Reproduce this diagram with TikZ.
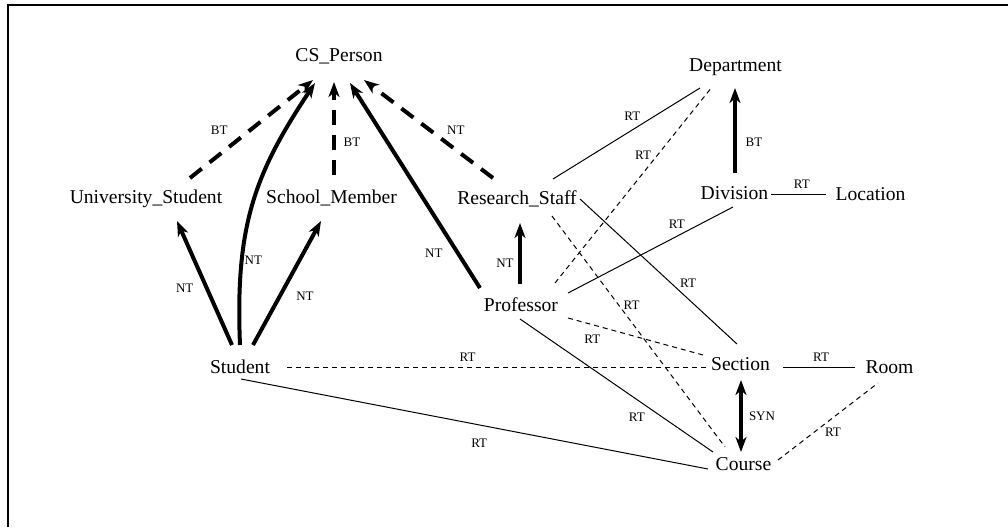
\documentclass[tikz,border=0pt]{standalone}
\usepackage{fontspec}
\setmainfont{Liberation Serif}
\usetikzlibrary{arrows.meta}

\begin{document}
\begin{tikzpicture}[x=0.5pt, y=-0.5pt, >={Stealth[length=7.5pt,width=5.5pt,inset=2.2pt]},
    term/.style={inner sep=0pt, anchor=base, font=\fontsize{9.8}{11}\selectfont},
    lbl/.style={inner sep=0pt, font=\fontsize{6.5}{7}\selectfont},
    hier/.style={->, line width=2pt},
    hierdash/.style={->, line width=2pt, dash pattern=on 7.5pt off 5pt},
    rel/.style={line width=0.5pt},
    reldash/.style={line width=0.5pt, dash pattern=on 2.5pt off 2pt}]
    \useasboundingbox (0,0) rectangle (1008,527);

    % Frame
    \draw[line width=0.6pt] (8,527) -- (8,5) -- (1008,5);

    % Terms
    \node[term] (cs) at (339,61.5) {CS\_Person};
    \node[term] (dept) at (735.5,71) {Department};
    \node[term] (ustu) at (146,203) {University\_Student};
    \node[term] (smem) at (331.5,203) {School\_Member};
    \node[term] (rstaff) at (517,204) {Research\_Staff};
    \node[term] (div) at (734.5,199.5) {Division};
    \node[term] (loc) at (870.5,200) {Location};
    \node[term] (prof) at (521,311.5) {Professor};
    \node[term] (stu) at (240,373) {Student};
    \node[term] (sec) at (740.5,370.5) {Section};
    \node[term] (room) at (889.5,373.5) {Room};
    \node[term] (course) at (743.5,470.5) {Course};

    % Hierarchy (BT / NT)
    \draw[hierdash] ([shift={(44,-25)}]ustu.base) -- ([shift={(-26,18.5)}]cs.base)
        node[lbl, pos=.49, shift={(-31,0)}] {BT};
    \draw[hierdash] ([shift={(2.5,-28)}]smem.base) -- ([shift={(-5,20.5)}]cs.base)
        node[lbl, pos=.355, shift={(18,0)}] {BT};
    \draw[hierdash] ([shift={(-24,-26)}]rstaff.base) -- ([shift={(25,18.5)}]cs.base)
        node[lbl, pos=.49, shift={(26,0)}] {NT};
    \draw[hier] ([shift={(0,-28)}]stu.base) .. controls +(-5,-120) and +(-60,90) .. ([shift={(-24,21.5)}]cs.base)
        node[lbl, pos=.29, shift={(11,5)}] {NT};
    \draw[hier] ([shift={(-41,-23.5)}]prof.base) -- ([shift={(11,21.5)}]cs.base)
        node[lbl, pos=.17, shift={(-24,0)}] {NT};
    \draw[hier] ([shift={(-8,-28)}]stu.base) -- ([shift={(31,18)}]ustu.base)
        node[lbl, pos=.46, shift={(-22,0)}] {NT};
    \draw[hier] ([shift={(13,-28)}]stu.base) -- ([shift={(-10.5,18)}]smem.base)
        node[lbl, pos=.39, shift={(25.5,0)}] {NT};
    \draw[hier] ([shift={(-1,-27.5)}]prof.base) -- ([shift={(3,19)}]rstaff.base)
        node[lbl, pos=.34, shift={(-15,0)}] {NT};
    \draw[hier] ([shift={(0.5,-26.5)}]div.base) -- ([shift={(-0.5,17)}]dept.base)
        node[lbl, pos=.36, shift={(19,0)}] {BT};
    \draw[hier, <->] ([shift={(0.5,9.5)}]sec.base) -- ([shift={(-2.5,-18.5)}]course.base)
        node[lbl, pos=.51, shift={(21,0)}] {SYN};

    % Related terms (RT)
    \draw[rel] ([shift={(36.5,-5.5)}]div.base) -- ([shift={(-44.5,-6)}]loc.base)
        node[lbl, pos=.56, shift={(0,-10)}] {RT};
    \draw[rel] ([shift={(36,-25)}]rstaff.base) -- ([shift={(-35.5,17)}]dept.base)
        node[lbl, pos=.54, shift={(0,-14)}] {RT};
    \draw[reldash] ([shift={(34,-28.5)}]prof.base) -- ([shift={(-23.5,16)}]dept.base)
        node[lbl, pos=.65, shift={(-14,0)}] {RT};
    \draw[rel] ([shift={(47,-18.5)}]prof.base) -- ([shift={(-1.5,7.5)}]div.base)
        node[lbl, pos=.66, shift={(0,-12)}] {RT};
    \draw[rel] ([shift={(63,-5)}]rstaff.base) -- ([shift={(-3.5,-26.5)}]sec.base)
        node[lbl, pos=.58, shift={(17,0)}] {RT};
    \draw[reldash] ([shift={(35,12)}]rstaff.base) -- ([shift={(-18.5,-23.5)}]course.base)
        node[lbl, pos=.385, shift={(13,0)}] {RT};
    \draw[reldash] ([shift={(47,6.5)}]prof.base) -- ([shift={(-37.5,-15.5)}]sec.base)
        node[lbl, pos=.18, shift={(0,15)}] {RT};
    \draw[rel] ([shift={(-1,7.5)}]prof.base) -- ([shift={(-30.5,-18.5)}]course.base)
        node[lbl, pos=.74, shift={(-26,0)}] {RT};
    \draw[reldash] ([shift={(47,-6)}]stu.base) -- ([shift={(-33.5,-3.5)}]sec.base)
        node[lbl, pos=.43, shift={(0,-10)}] {RT};
    \draw[rel] ([shift={(1,6)}]stu.base) -- ([shift={(-35.5,-1.5)}]course.base)
        node[lbl, pos=.51, shift={(0,18)}] {RT};
    \draw[rel] ([shift={(42.5,-3.5)}]sec.base) -- ([shift={(-34.5,-6.5)}]room.base)
        node[lbl, pos=.53, shift={(0,-10)}] {RT};
    \draw[reldash] ([shift={(34.5,-10.5)}]course.base) -- ([shift={(-11.5,9.5)}]room.base)
        node[lbl, pos=.55, shift={(0,15)}] {RT};

\end{tikzpicture}
\end{document}
